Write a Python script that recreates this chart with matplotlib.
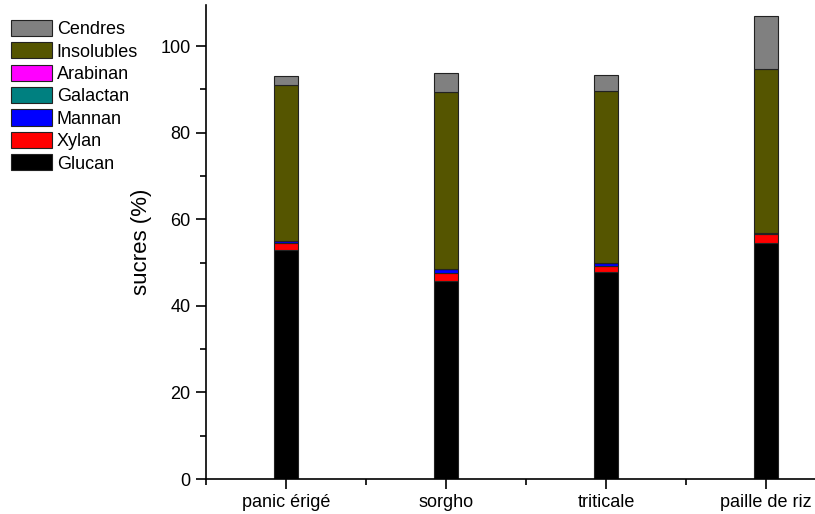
import matplotlib
matplotlib.use('Agg')
import matplotlib.pyplot as plt
import numpy as np
from matplotlib.ticker import MultipleLocator, FixedLocator

plt.rcParams['font.family'] = ['Liberation Sans', 'DejaVu Sans']

# donnees (%)
categories = ['panic érigé', 'sorgho', 'triticale', 'paille de riz']
glucan = [53.0, 45.7, 47.8, 54.6]
xylan = [1.5, 2.0, 1.3, 1.9]
mannan = [0.5, 0.7, 0.7, 0.4]
galactan = [0.0, 0.0, 0.0, 0.0]
arabinan = [0.0, 0.0, 0.0, 0.0]
insolubles = [36.0, 41.0, 39.9, 37.8]
cendres = [2.1, 4.4, 3.6, 12.3]

series = [('Glucan', glucan, '#000000'),
          ('Xylan', xylan, '#ff0000'),
          ('Mannan', mannan, '#0000ff'),
          ('Galactan', galactan, '#008080'),
          ('Arabinan', arabinan, '#ff00ff'),
          ('Insolubles', insolubles, '#555500'),
          ('Cendres', cendres, '#808080')]

fig = plt.figure(figsize=(8.15, 5.14), dpi=100)
ax = fig.add_axes([206/815, 35/514, 640/815, 474/514])

x = np.arange(len(categories))
bottom = np.zeros(len(categories))
handles = []
for name, vals, col in series:
    b = ax.bar(x, vals, 0.156, bottom=bottom, color=col, edgecolor='#222222',
               linewidth=0.8, label=name)
    handles.append(b)
    bottom += np.array(vals)

ax.set_xlim(-0.5, 3.5)
ax.set_ylim(0, 109.5)
ax.set_xticks(x)
ax.set_xticklabels(categories, fontsize=13)
ax.xaxis.set_minor_locator(FixedLocator([-0.5, 0.5, 1.5, 2.5]))
ax.yaxis.set_major_locator(MultipleLocator(20))
ax.yaxis.set_minor_locator(MultipleLocator(10))
ax.tick_params(axis='both', which='major', direction='out', length=7, width=1.2,
               labelsize=13, pad=4)
ax.tick_params(axis='both', which='minor', direction='out', length=4, width=1.2)
ax.set_ylabel('sucres (%)', fontsize=16, labelpad=6)
ax.spines['top'].set_visible(False)
ax.spines['right'].set_visible(False)
ax.spines['left'].set_linewidth(1.2)
ax.spines['bottom'].set_linewidth(1.2)

fig.legend(handles[::-1], [s[0] for s in series][::-1], loc='upper left',
           bbox_to_anchor=(0.0, 1.0 - 9/514), frameon=False, fontsize=13,
           handlelength=2.3, handleheight=1.0, labelspacing=0.23,
           handletextpad=0.25, borderaxespad=0.2)

plt.savefig('out.png', dpi=100)
